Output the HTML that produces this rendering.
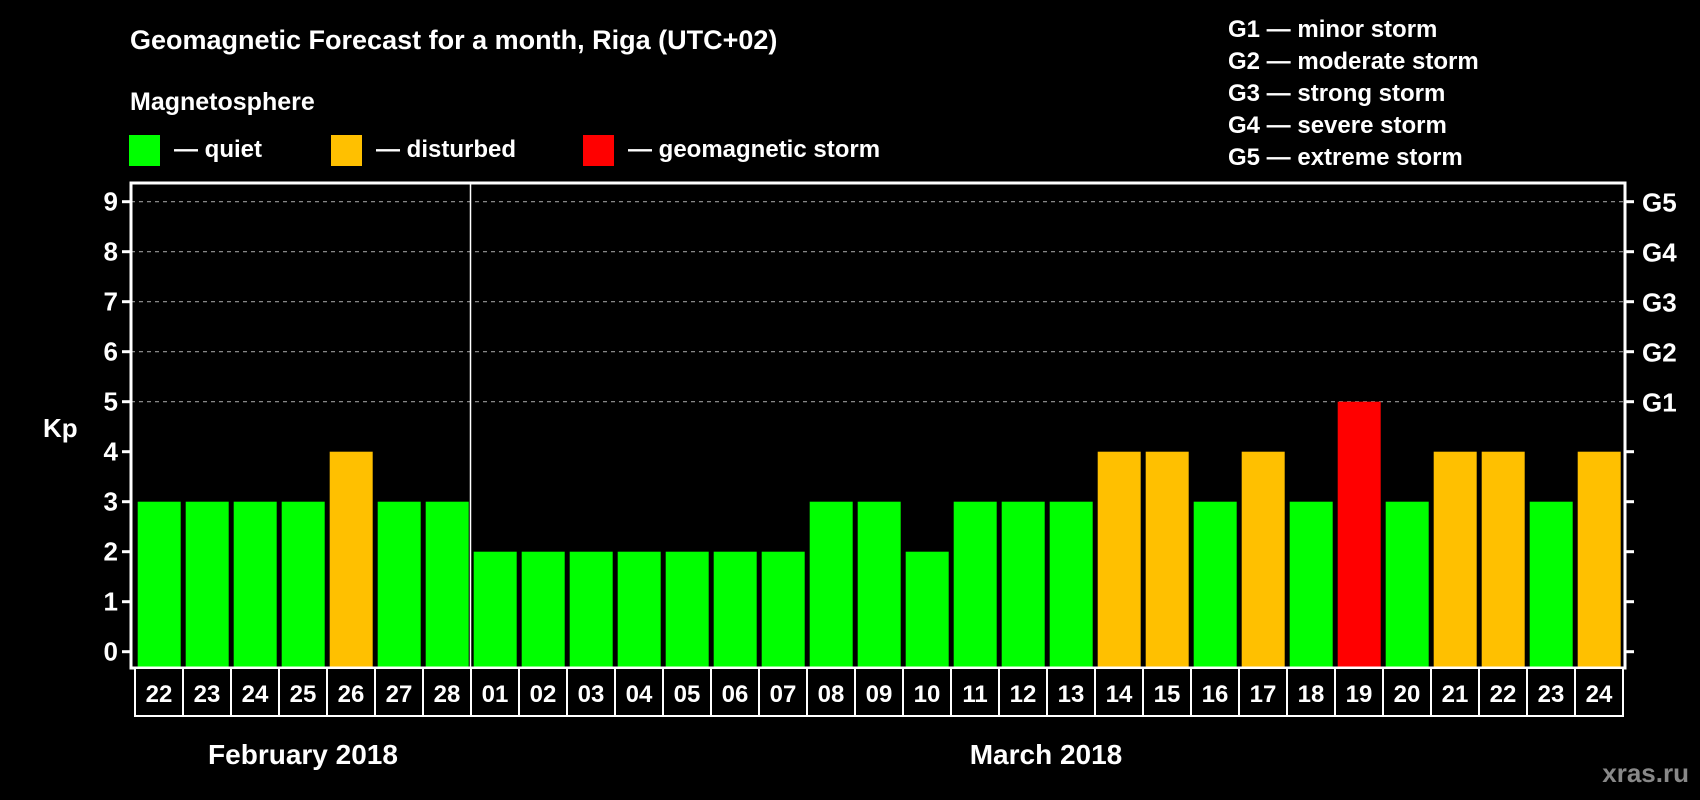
<!DOCTYPE html>
<html><head><meta charset="utf-8"><style>
html,body{margin:0;padding:0;background:#000;}
svg{display:block;font-family:"Liberation Sans",Arial,sans-serif;font-weight:bold;}
</style></head><body>
<svg width="1700" height="800" viewBox="0 0 1700 800" id="chart">
<rect x="0" y="0" width="1700" height="800" fill="#000"/>
<text x="130" y="49" fill="#fff" font-size="27">Geomagnetic Forecast for a month, Riga (UTC+02)</text>
<text x="130" y="110" fill="#fff" font-size="25">Magnetosphere</text>
<g>
<rect x="129" y="135" width="31" height="31" fill="#00ff00"/>
<text x="174" y="157" fill="#fff" font-size="24">— quiet</text></g>
<g>
<rect x="331" y="135" width="31" height="31" fill="#ffc000"/>
<text x="376" y="157" fill="#fff" font-size="24">— disturbed</text></g>
<g>
<rect x="583" y="135" width="31" height="31" fill="#ff0000"/>
<text x="628" y="157" fill="#fff" font-size="24">— geomagnetic storm</text></g>
<g font-size="24" fill="#fff">
<text x="1228" y="37">G1 — minor storm</text>
<text x="1228" y="69">G2 — moderate storm</text>
<text x="1228" y="101">G3 — strong storm</text>
<text x="1228" y="133">G4 — severe storm</text>
<text x="1228" y="165">G5 — extreme storm</text>
</g>
<text x="43" y="437" fill="#fff" font-size="26">Kp</text>
<text x="303" y="764" fill="#fff" font-size="28" text-anchor="middle">February 2018</text>
<text x="1046" y="764" fill="#fff" font-size="28" text-anchor="middle">March 2018</text>
<text x="1689" y="782" fill="#888" font-size="26" text-anchor="end">xras.ru</text>
<g id="grid"></g><g id="bars"></g><g id="axes"></g>
</svg>
<script>
const days = ["22","23","24","25","26","27","28","01","02","03","04","05","06","07","08","09","10","11","12","13","14","15","16","17","18","19","20","21","22","23","24"];
const kpValues = [3,3,3,3,4,3,3,2,2,2,2,2,2,2,3,3,2,3,3,3,4,4,3,4,3,5,3,4,4,3,4];
const yTicks = [0,1,2,3,4,5,6,7,8,9];
const gLabels = ["G1","G2","G3","G4","G5"];
const gLevels = [5,6,7,8,9];
const monthSplitIndex = 7;

const NS="http://www.w3.org/2000/svg";
const plotL=131, plotR=1625, plotT=183, plotB=668;
const y0=651.7, unit=50;
const slotX0=135, pitch=48, barW=43, barOff=2.7;
function yScale(v){return y0-v*unit;}
function xSlot(i){return slotX0+i*pitch;}
function colorFor(v){return v>=5?"#ff0000":(v>=4?"#ffc000":"#00ff00");}
function mk(tag,attrs,parent){const e=document.createElementNS(NS,tag);for(const k in attrs)e.setAttribute(k,attrs[k]);parent.appendChild(e);return e;}
const grid=document.getElementById('grid'),bars=document.getElementById('bars'),axes=document.getElementById('axes');

gLevels.forEach(v=>{
  const l=mk('line',{x1:plotL,x2:plotR,y1:yScale(v),y2:yScale(v),stroke:'#999','stroke-width':1.2,'stroke-dasharray':'4 4'},grid);
  
  
});
kpValues.forEach((v,i)=>{
  const r=mk('rect',{x:xSlot(i)+barOff,y:yScale(v),width:barW,height:plotB-yScale(v),fill:colorFor(v)},bars);
  
  
});
// frame
const fr=mk('rect',{x:plotL,y:plotT,width:plotR-plotL,height:plotB-plotT,fill:'none',stroke:'#fff','stroke-width':3},axes);


const sep=mk('line',{x1:xSlot(monthSplitIndex)-0.5,x2:xSlot(monthSplitIndex)-0.5,y1:plotT,y2:plotB,stroke:'#fff','stroke-width':1.5},axes);


yTicks.forEach(v=>{
  const t=mk('line',{x1:plotL-9,x2:plotL,y1:yScale(v),y2:yScale(v),stroke:'#fff','stroke-width':3},axes);
  
  
  const t2=mk('line',{x1:plotR,x2:plotR+9,y1:yScale(v),y2:yScale(v),stroke:'#fff','stroke-width':3},axes);
  
  
  const tx=mk('text',{x:plotL-13,y:yScale(v)+9,fill:'#fff','font-size':26,'text-anchor':'end'},axes);
  tx.textContent=v;
  
  
});
gLevels.forEach((v,i)=>{
  const tx=mk('text',{x:plotR+17,y:yScale(v)+10,fill:'#fff','font-size':26},axes);
  tx.textContent=gLabels[i];
  
  
});
days.forEach((d,i)=>{
  const c=mk('rect',{x:xSlot(i),y:plotB,width:pitch,height:48,fill:'#000',stroke:'#fff','stroke-width':2},axes);
  
  
  const tx=mk('text',{x:xSlot(i)+pitch/2,y:plotB+34,fill:'#fff','font-size':24,'text-anchor':'middle'},axes);
  tx.textContent=d;
  
  
});
</script>
</body></html>
